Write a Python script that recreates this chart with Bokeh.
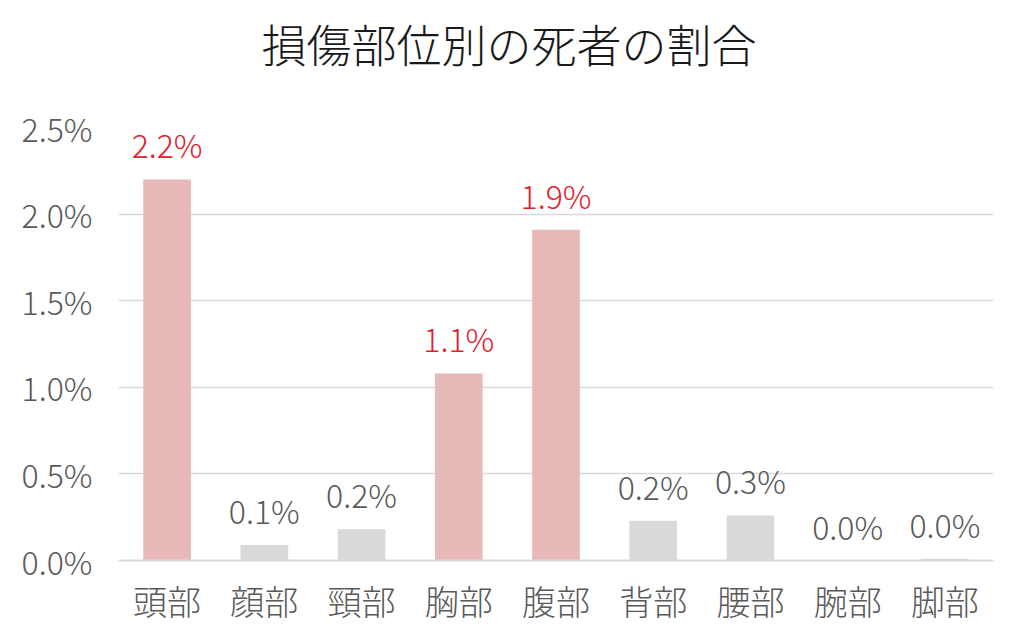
from bokeh.plotting import figure
from bokeh.models import ColumnDataSource, LabelSet, Range1d, FixedTicker, CustomJSTickFormatter, Div
from bokeh.layouts import column
from bokeh.embed import file_html
from bokeh.resources import INLINE
from bokeh.core.properties import value

# ---- data ----
title_text = "損傷部位別の死者の割合"
categories = ["頭部", "顔部", "頸部", "胸部", "腹部", "背部", "腰部", "腕部", "脚部"]
death_rate = [2.20, 0.09, 0.18, 1.08, 1.91, 0.23, 0.26, 0.00, 0.01]   # percent
highlight = [True, False, False, True, True, False, False, False, False]
y_ticks = [0.0, 0.5, 1.0, 1.5, 2.0, 2.5]

PINK = "#e6b8b7"
GRAY = "#d9d9d9"
RED = "#e3202c"
TXT = "#595959"
FONT = "'Noto Sans CJK JP Light', 'Noto Sans CJK JP'"

src = ColumnDataSource(dict(
    cat=categories,
    val=death_rate,
    color=[PINK if h else GRAY for h in highlight],
    tcolor=[RED if h else TXT for h in highlight],
    label=[f"{v:.1f}%" for v in death_rate],
))

W = 118 + 875 + 15

title = Div(text=title_text, width=W, height=84,
            styles={"font-family": FONT, "font-size": "45px", "color": "#1a1a1a",
                    "text-align": "center", "line-height": "78px", "white-space": "nowrap",
                    "width": f"{W}px"})

p = figure(x_range=categories, y_range=Range1d(0, 2.5),
           frame_width=875, frame_height=433,
           output_backend="svg", toolbar_location=None,
           min_border_left=118, min_border_right=15, min_border_top=33, min_border_bottom=60)
p.outline_line_color = None
p.background_fill_color = "white"
p.border_fill_color = "white"

p.vbar(x="cat", top="val", width=0.49, color="color", line_color=None, source=src)

labels = LabelSet(x="cat", y="val", text="label", source=src, text_align="center",
                  text_baseline="bottom", y_offset=12, text_color="tcolor",
                  text_font=value(FONT), text_font_size="32px")
p.add_layout(labels)

# axes
p.xgrid.grid_line_color = None
p.ygrid.grid_line_color = GRAY
p.ygrid.grid_line_width = 1.5
p.yaxis.ticker = FixedTicker(ticks=y_ticks)
p.yaxis.formatter = CustomJSTickFormatter(code="return tick.toFixed(1) + '%';")
p.yaxis.axis_line_color = None
p.yaxis.major_tick_line_color = None
p.yaxis.minor_tick_line_color = None
p.yaxis.major_label_text_font = FONT
p.yaxis.major_label_text_font_size = "32px"
p.yaxis.major_label_text_color = TXT
p.yaxis.major_label_standoff = 20

p.xaxis.axis_line_color = GRAY
p.xaxis.axis_line_width = 2
p.xaxis.major_tick_line_color = None
p.xaxis.minor_tick_line_color = None
p.xaxis.major_label_text_font = FONT
p.xaxis.major_label_text_font_size = "34px"
p.xaxis.major_label_text_color = TXT
p.xaxis.major_label_standoff = 9

layout = column(title, p, spacing=0)
open("out.html", "w").write(file_html(layout, INLINE))
